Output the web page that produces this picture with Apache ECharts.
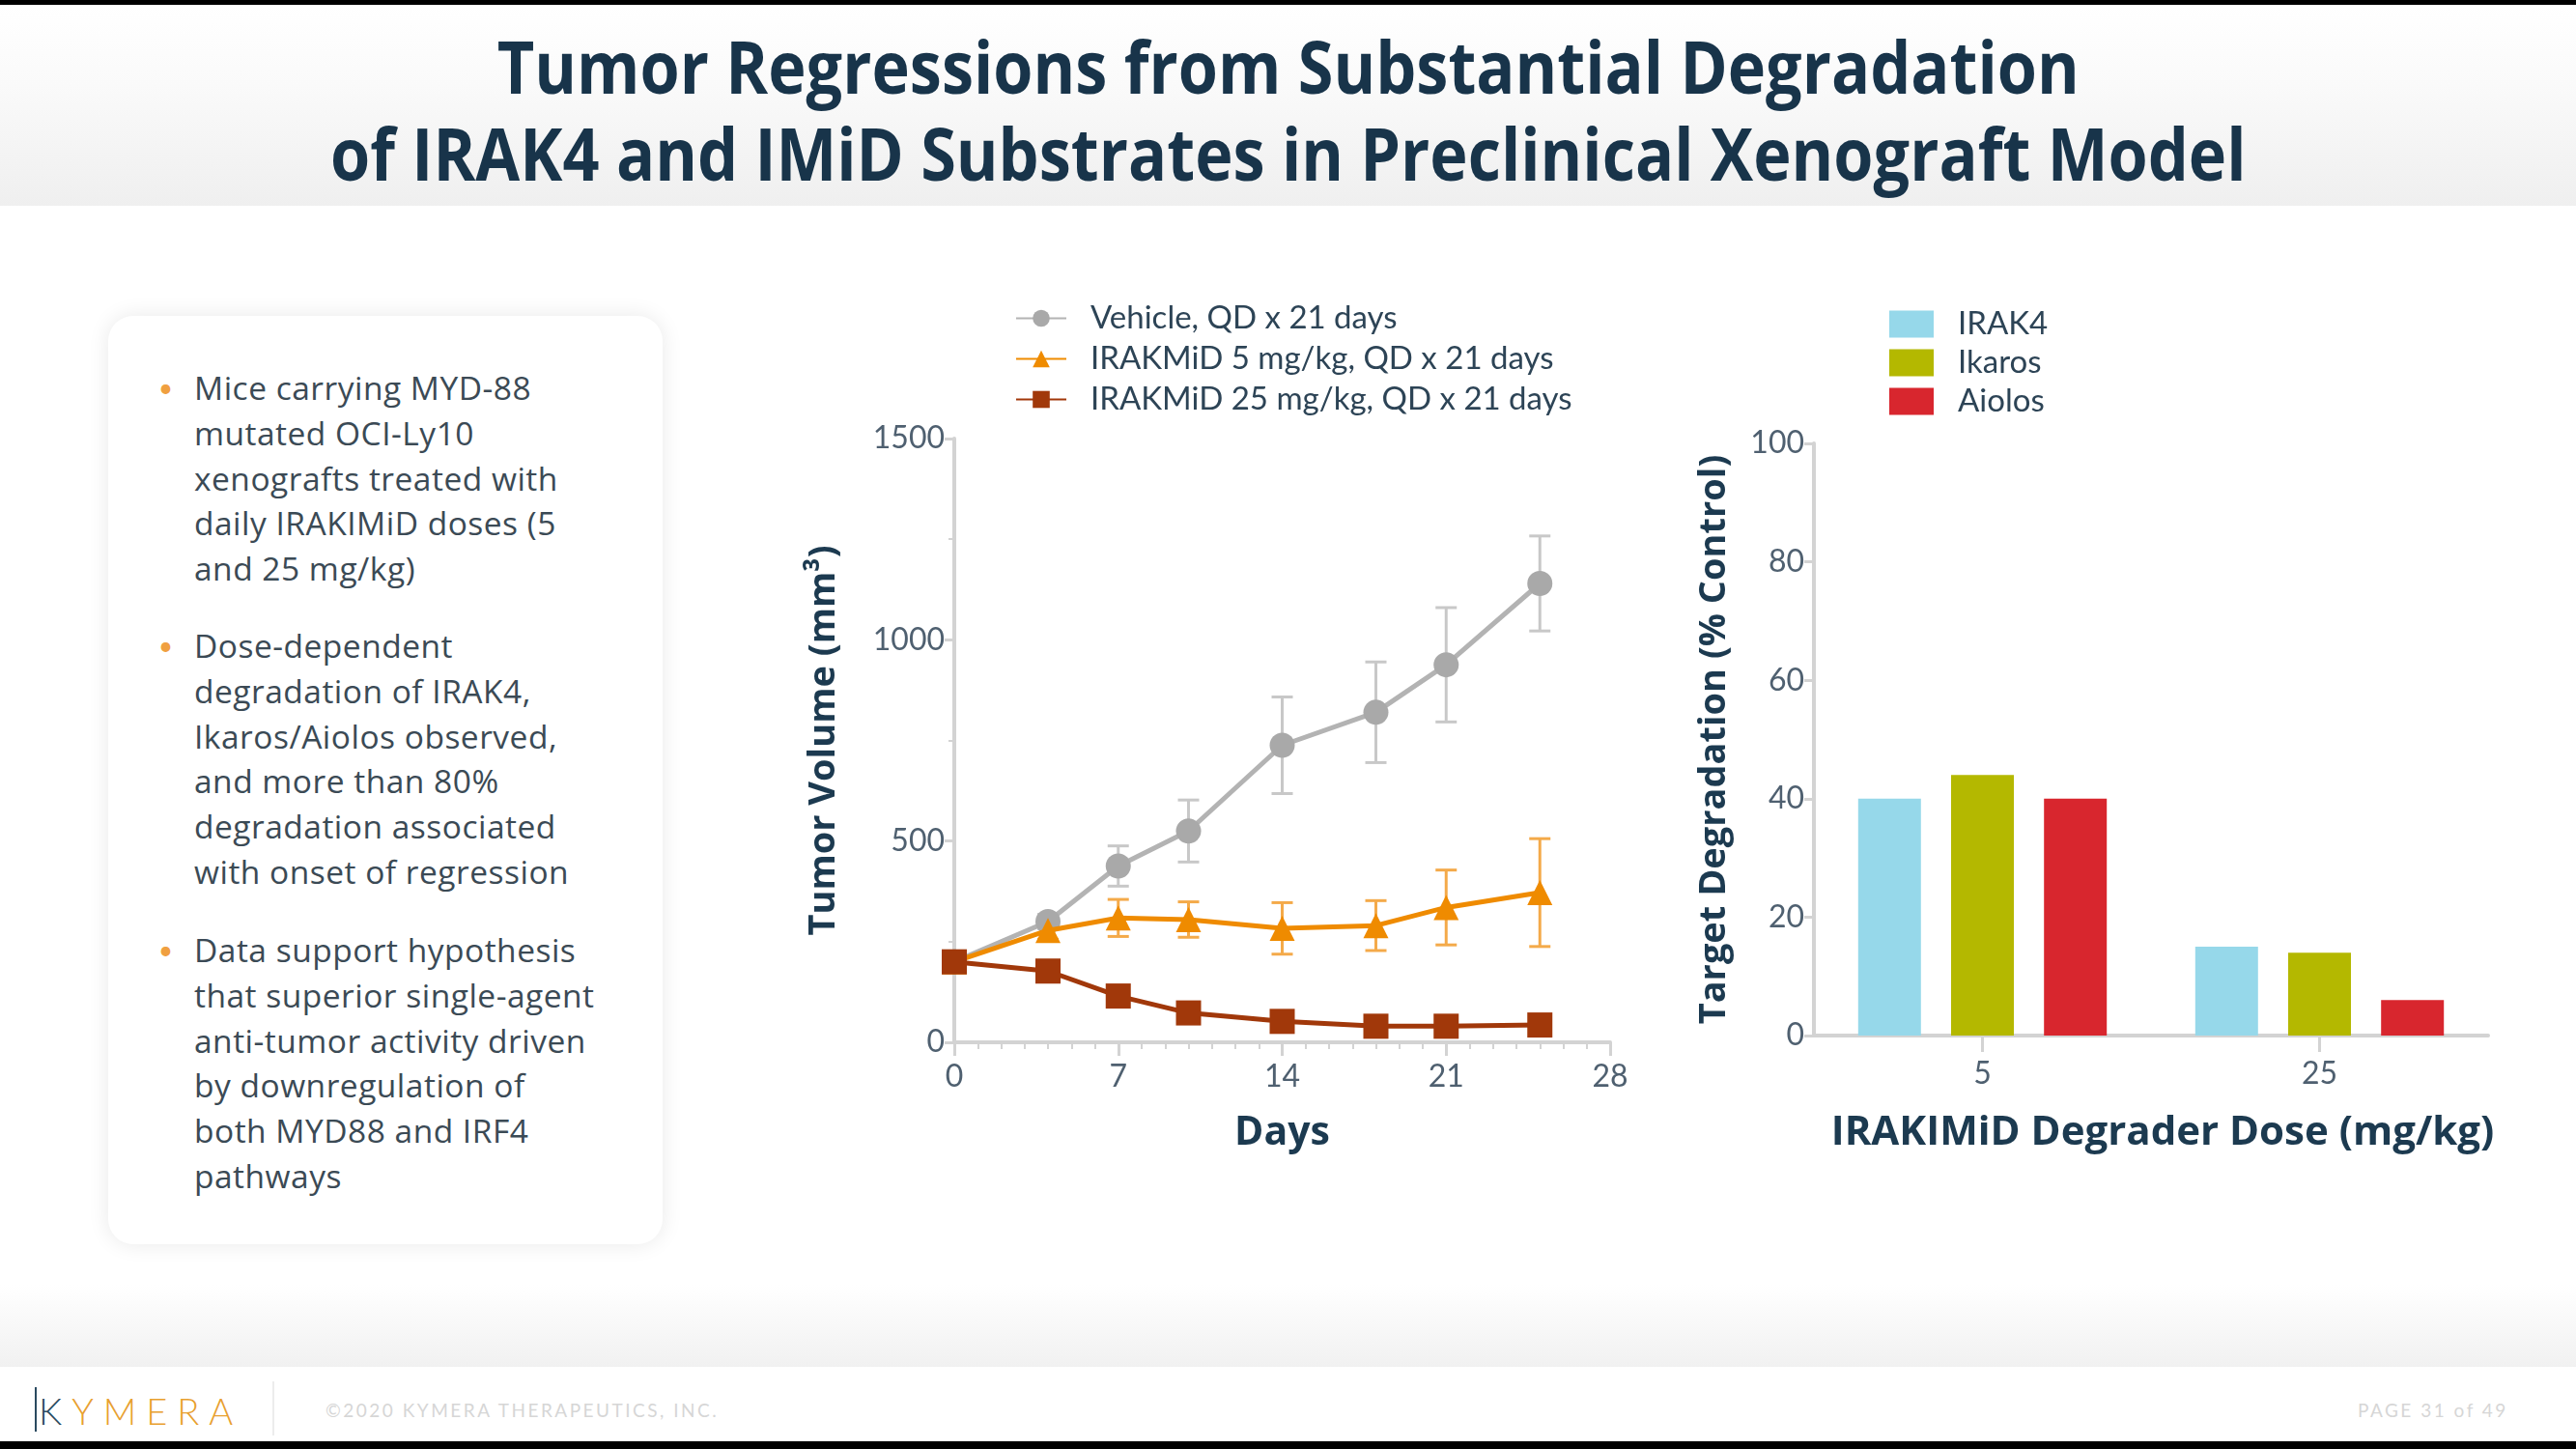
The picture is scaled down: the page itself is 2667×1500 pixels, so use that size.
<!DOCTYPE html>
<html>
<head>
<meta charset="utf-8">
<script src="https://cdn.jsdelivr.net/npm/echarts@6/dist/echarts.min.js"></script>
<style>
  html, body { margin:0; padding:0; width:2667px; height:1500px; overflow:hidden; background:#ffffff; font-family: Lato, "Open Sans", sans-serif; }
  #topbar { position:absolute; left:0; top:0; width:2667px; height:5px; background:#000; }
  #titleband { position:absolute; left:0; top:5px; width:2667px; height:208px; background:linear-gradient(#ffffff 0%, #fafafa 40%, #efefef 100%); }
  .title { position:absolute; left:0; width:2667px; text-align:center; font-family:"Open Sans",sans-serif; font-weight:bold; font-size:75px; color:#18344a; line-height:90px; transform:scaleX(0.888); transform-origin:1336px 0; }
  #card { position:absolute; left:112px; top:327px; width:574px; height:961px; background:#fff; border-radius:26px; box-shadow:0 0 22px rgba(0,0,0,0.09); }
  .blk { position:absolute; left:201px; width:480px; font-family:"Open Sans",sans-serif; font-size:33.5px; letter-spacing:0.5px; line-height:46.8px; color:#3b4a55; white-space:nowrap; }
  .dot { position:absolute; left:164px; font-size:26px; color:#f0a040; line-height:46.8px; }
  #bottomfade { position:absolute; left:0; top:1330px; width:2667px; height:85px; background:linear-gradient(#ffffff, #f1f1f1); }
  #footer { position:absolute; left:0; top:1415px; width:2667px; height:77px; background:#fff; }
  #botbar { position:absolute; left:0; top:1492px; width:2667px; height:8px; background:#000; }
  #logo { position:absolute; left:40px; top:1438px; font-family:Lato,sans-serif; font-weight:300; font-size:38px; letter-spacing:10px; line-height:44px; color:#e8a030; }
  #logo .k { color:#2a4a60; }
  #logotick { position:absolute; left:36px; top:1436px; width:2px; height:46px; background:#2a4a60; }
  #sep { position:absolute; left:282px; top:1430px; width:2px; height:56px; background:#ececec; }
  #copy { position:absolute; left:337px; top:1448px; font-family:Lato,sans-serif; font-size:19px; letter-spacing:2.5px; color:#d6d6d6; }
  #page { position:absolute; left:2441px; top:1448px; font-family:Lato,sans-serif; font-size:19px; letter-spacing:2.5px; color:#d6d6d6; }
  #chart { position:absolute; left:0; top:0; width:2667px; height:1500px; }
</style>
</head>
<body>
<div id="topbar"></div>
<div id="titleband"></div>
<div class="title" style="top:23px;">Tumor Regressions from Substantial Degradation</div>
<div class="title" style="top:113px;">of IRAK4 and IMiD Substrates in Preclinical Xenograft Model</div>
<div id="card"></div>
<div class="dot" style="top:378px;">•</div>
<div class="blk" style="top:378px;">Mice carrying MYD-88<br>mutated OCI-Ly10<br>xenografts treated with<br>daily IRAKIMiD doses (5<br>and 25 mg/kg)</div>
<div class="dot" style="top:645px;">•</div>
<div class="blk" style="top:645px;">Dose-dependent<br>degradation of IRAK4,<br>Ikaros/Aiolos observed,<br>and more than 80%<br>degradation associated<br>with onset of regression</div>
<div class="dot" style="top:960px;">•</div>
<div class="blk" style="top:960px;">Data support hypothesis<br>that superior single-agent<br>anti-tumor activity driven<br>by downregulation of<br>both MYD88 and IRF4<br>pathways</div>
<div id="bottomfade"></div>
<div id="footer"></div>
<div id="logotick"></div>
<div id="logo"><span class="k">K</span>YMERA</div>
<div id="sep"></div>
<div id="copy">©2020 KYMERA THERAPEUTICS, INC.</div>
<div id="page">PAGE 31 of 49</div>
<div id="botbar"></div>
<div id="chart"></div>
<script>
// ---- Data: tumor volume (mm^3) by day ----
const days = [0, 4, 7, 10, 14, 18, 21, 25];
const vehicleMean = [200, 300, 438, 525, 738, 820, 938, 1140];
const vehicleErr  = [0, 18, 50, 77, 120, 125, 142, 118];
const dose5Mean   = [200, 278, 309, 305, 283, 290, 335, 372];
const dose5Err    = [0, 22, 46, 44, 64, 62, 93, 134];
const dose25Mean  = [200, 177, 115, 73, 52, 40, 40, 43];
const dose25Err   = [0, 10, 12, 10, 8, 8, 8, 8];
const lineNames = ['Vehicle, QD x 21 days', 'IRAKMiD 5 mg/kg, QD x 21 days', 'IRAKMiD 25 mg/kg, QD x 21 days'];

// ---- Data: target degradation (% control) by dose ----
const doseCats = ['5', '25'];
const irak4  = [40, 15];
const ikaros = [44, 14];
const aiolos = [40, 6];
const barNames = ['IRAK4', 'Ikaros', 'Aiolos'];

// tick settings
const volMax = 1500, volInterval = 500;
const dayMax = 28, dayInterval = 7;
const degMax = 100, degInterval = 20;

const C_GREY = '#a9a9a9', C_ORANGE = '#ef8b00', C_BROWN = '#a1380a';
const C_BLUE = '#96d8ea', C_OLIVE = '#b4b800', C_RED = '#d8262e';
const AXIS_C = '#d3d3d3', LABEL_C = '#4f6070', NAME_C = '#1c3a50';
const labelFont = 'Lato, sans-serif';
const boldFont = '"Open Sans", sans-serif';

function pts(mean) { return days.map((d, i) => [d, mean[i]]); }
function errs(mean, err) { return days.map((d, i) => [d, mean[i] - err[i], mean[i] + err[i]]); }

function errRender(color) {
  return function (params, api) {
    const x = api.value(0), lo = api.value(1), hi = api.value(2);
    if (hi - lo <= 0) return null;
    const p1 = api.coord([x, lo]), p2 = api.coord([x, hi]);
    const hw = 11;
    const st = { stroke: color, lineWidth: 3 };
    return { type: 'group', children: [
      { type: 'line', shape: { x1: p1[0], y1: p1[1], x2: p2[0], y2: p2[1] }, style: st },
      { type: 'line', shape: { x1: p1[0] - hw, y1: p1[1], x2: p1[0] + hw, y2: p1[1] }, style: st },
      { type: 'line', shape: { x1: p2[0] - hw, y1: p2[1], x2: p2[0] + hw, y2: p2[1] }, style: st }
    ]};
  };
}

const chart = echarts.init(document.getElementById('chart'), null, { renderer: 'canvas' });
const option = {
  animation: false,
  textStyle: { fontFamily: labelFont },
  grid: [
    { left: 988, top: 454, width: 679, height: 625 },
    { left: 1878, top: 459, width: 698, height: 613 }
  ],
  legend: [
    {
      data: lineNames, orient: 'vertical', left: 1046, top: 308,
      itemWidth: 52, itemHeight: 22, itemGap: 9,
      textStyle: { fontFamily: labelFont, fontSize: 33, color: '#2d4456', lineHeight: 32, padding: [0, 0, 0, 20] }
    },
    {
      data: barNames, orient: 'vertical', left: 1951, top: 314,
      icon: 'rect', itemWidth: 46, itemHeight: 28, itemGap: 7,
      textStyle: { fontFamily: labelFont, fontSize: 33, color: '#2d4456', lineHeight: 30, padding: [0, 0, 0, 20] }
    }
  ],
  xAxis: [
    {
      gridIndex: 0, type: 'value', min: 0, max: dayMax, interval: dayInterval,
      name: 'Days', nameLocation: 'middle', nameGap: 74,
      nameTextStyle: { fontFamily: boldFont, fontWeight: 'bold', fontSize: 41, color: NAME_C },
      axisLine: { show: true, lineStyle: { color: AXIS_C, width: 4 } },
      axisTick: { show: true, length: 14, lineStyle: { color: AXIS_C, width: 3 } },
      minorTick: { show: true, splitNumber: 7, length: 7, lineStyle: { color: AXIS_C, width: 2 } },
      splitLine: { show: false },
      axisLabel: { fontSize: 32, color: LABEL_C, margin: 20 }
    },
    {
      gridIndex: 1, type: 'category', data: doseCats,
      name: 'IRAKIMiD Degrader Dose (mg/kg)', nameLocation: 'middle', nameGap: 80,
      nameTextStyle: { fontFamily: boldFont, fontWeight: 'bold', fontSize: 42, color: NAME_C, padding: [0, 0, 0, 24] },
      axisLine: { show: true, lineStyle: { color: AXIS_C, width: 4 } },
      axisTick: { show: true, alignWithLabel: true, length: 17, lineStyle: { color: AXIS_C, width: 3 } },
      axisLabel: { fontSize: 32, color: LABEL_C, margin: 24 }
    }
  ],
  yAxis: [
    {
      gridIndex: 0, type: 'value', min: 0, max: volMax, interval: volInterval,
      name: 'Tumor Volume (mm³)', nameLocation: 'middle', nameGap: 116, nameRotate: 90,
      nameTextStyle: { fontFamily: boldFont, fontWeight: 'bold', fontSize: 38, color: NAME_C },
      axisLine: { show: true, lineStyle: { color: AXIS_C, width: 4 } },
      axisTick: { show: true, length: 10, lineStyle: { color: AXIS_C, width: 3 } },
      minorTick: { show: true, splitNumber: 2, length: 6, lineStyle: { color: AXIS_C, width: 2 } },
      splitLine: { show: false },
      axisLabel: { fontSize: 32, color: LABEL_C, margin: 10, formatter: function (v) { return String(v); } }
    },
    {
      gridIndex: 1, type: 'value', min: 0, max: degMax, interval: degInterval,
      name: 'Target Degradation (% Control)', nameLocation: 'middle', nameGap: 84, nameRotate: 90,
      nameTextStyle: { fontFamily: boldFont, fontWeight: 'bold', fontSize: 38, color: NAME_C },
      axisLine: { show: true, lineStyle: { color: AXIS_C, width: 4 } },
      axisTick: { show: true, length: 10, lineStyle: { color: AXIS_C, width: 3 } },
      splitLine: { show: false },
      axisLabel: { fontSize: 32, color: LABEL_C, margin: 10 }
    }
  ],
  series: [
    { type: 'custom', name: 'err-vehicle', xAxisIndex: 0, yAxisIndex: 0, renderItem: errRender('#c8c8c8'), data: errs(vehicleMean, vehicleErr), z: 1 },
    { type: 'custom', name: 'err-5', xAxisIndex: 0, yAxisIndex: 0, renderItem: errRender('#f4aa4a'), data: errs(dose5Mean, dose5Err), z: 1 },
    { type: 'custom', name: 'err-25', xAxisIndex: 0, yAxisIndex: 0, renderItem: errRender('#c0623a'), data: errs(dose25Mean, dose25Err), z: 1 },
    { type: 'line', name: lineNames[0], xAxisIndex: 0, yAxisIndex: 0, data: pts(vehicleMean),
      symbol: 'circle', symbolSize: 26, lineStyle: { color: '#b3b3b3', width: 5 }, itemStyle: { color: C_GREY }, z: 3 },
    { type: 'line', name: lineNames[1], xAxisIndex: 0, yAxisIndex: 0, data: pts(dose5Mean),
      symbol: 'triangle', symbolSize: 26, lineStyle: { color: C_ORANGE, width: 5 }, itemStyle: { color: C_ORANGE }, z: 4 },
    { type: 'line', name: lineNames[2], xAxisIndex: 0, yAxisIndex: 0, data: pts(dose25Mean),
      symbol: 'rect', symbolSize: 26, lineStyle: { color: C_BROWN, width: 5 }, itemStyle: { color: C_BROWN }, z: 5 },
    { type: 'bar', name: barNames[0], xAxisIndex: 1, yAxisIndex: 1, data: irak4, barWidth: 65, barGap: '48%', itemStyle: { color: C_BLUE } },
    { type: 'bar', name: barNames[1], xAxisIndex: 1, yAxisIndex: 1, data: ikaros, barWidth: 65, barGap: '48%', itemStyle: { color: C_OLIVE } },
    { type: 'bar', name: barNames[2], xAxisIndex: 1, yAxisIndex: 1, data: aiolos, barWidth: 65, barGap: '48%', itemStyle: { color: C_RED } }
  ]
};
chart.setOption(option);
</script>
</body>
</html>
